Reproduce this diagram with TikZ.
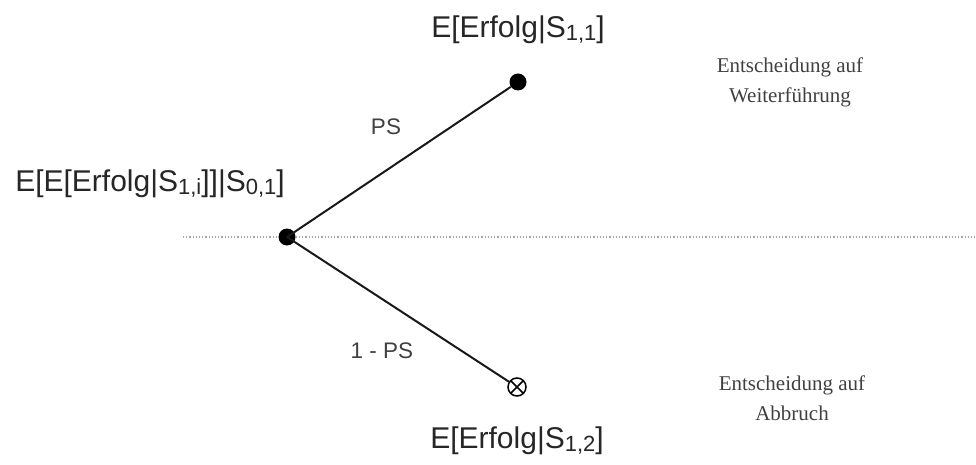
\documentclass[tikz,border=0pt]{standalone}
\usepackage{fontspec}
\setmainfont{Liberation Sans}
\newfontfamily\notefont{Liberation Serif}
\usetikzlibrary{positioning}

\newcommand{\idx}[1]{\raisebox{-0.08em}{\fontsize{22}{22}\selectfont #1}}

\begin{document}
\begin{tikzpicture}[
    x=1pt, y=-1pt,
    dot/.style={circle, fill=black, inner sep=0pt, minimum size=17pt},
    stopdot/.style={circle, draw=black, line width=1.5pt, inner sep=0pt, minimum size=18pt,
        path picture={\draw[line width=1.5pt] (path picture bounding box.north west) -- (path picture bounding box.south east)
            (path picture bounding box.north east) -- (path picture bounding box.south west);}},
    value/.style={font=\fontsize{30}{32}\selectfont, text=black!85, inner sep=0pt},
    prob/.style={font=\fontsize{22.5}{24}\selectfont, text=black!75, inner sep=0pt},
    note/.style={font=\notefont\fontsize{21}{30}\selectfont, text=black!75, align=center, inner sep=0pt},
    branch/.style={line width=2pt, black!90},
    axis/.style={line width=1.2pt, black!35, dotted}
]
\useasboundingbox (0,0) rectangle (976,465);

% Nodes
\node[dot] (root) at (287,237) {};
\node[dot] (go-on) at (518,82) {};
\node[stopdot] (stop) at (517,387) {};

\node[value] (root-value) at (150,184) {E[E[Erfolg|S\idx{1,i}]]|S\idx{0,1}]};
\node[value] (go-on-value) at (518,30) {E[Erfolg|S\idx{1,1}]};
\node[value] (stop-value) at (517,441) {E[Erfolg|S\idx{1,2}]};

\node[prob] (p-go-on) at (386,127) {PS};
\node[prob] (p-stop) at (382,351) {1 - PS};

\node[note] (go-on-note) at (790,82) {Entscheidung auf\\Weiterführung};
\node[note] (stop-note) at (792,398) {Entscheidung auf\\Abbruch};

\coordinate (axis-start) at (183,237);
\coordinate (axis-end) at (976,237);

% Lines
\draw[axis] (axis-start) -- (root);
\draw[axis] (root) -- (axis-end);
\draw[branch] (root.center) -- (go-on);
\draw[branch] (root.center) -- (stop);

\end{tikzpicture}
\end{document}
